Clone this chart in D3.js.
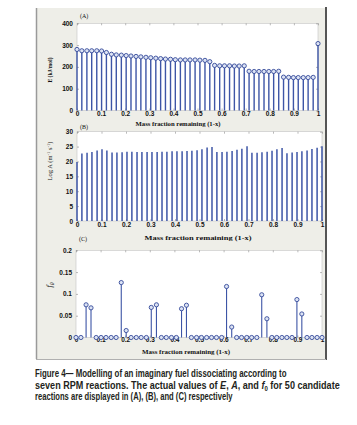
<!DOCTYPE html>
<html>
<head>
<meta charset="utf-8">
<script src="https://cdn.jsdelivr.net/npm/d3@7"></script>
<style>
  body { margin: 0; background: #fff; }
  svg text { font-family: "Liberation Serif", "DejaVu Serif", serif; font-weight: bold; fill: #111; }
  .tick line { stroke: #8a8a8a; stroke-width: 0.6; }
  .caption { font-family: "Liberation Sans", Arial, sans-serif; font-size: 10.5px; fill: #231f20; }
</style>
</head>
<body>
<div class="chart-container"></div>
<script>
//! DATA
// candidate positions, mass fraction remaining (1-x)
const massFraction = [0, 0.020, 0.041, 0.061, 0.082, 0.102, 0.122, 0.143, 0.163, 0.184,
  0.204, 0.224, 0.245, 0.265, 0.286, 0.306, 0.327, 0.347, 0.367, 0.388,
  0.408, 0.429, 0.449, 0.469, 0.490, 0.510, 0.531, 0.551, 0.571, 0.592,
  0.612, 0.633, 0.653, 0.673, 0.694, 0.714, 0.735, 0.755, 0.776, 0.796,
  0.816, 0.837, 0.857, 0.878, 0.898, 0.918, 0.939, 0.959, 0.980, 1];

// (A) activation energy, kJ/mol
const energyE = [280, 274, 274, 274, 274, 273, 266,
  258, 255, 254, 252, 250, 248, 246,
  244, 242, 240, 238, 236, 235, 233,
  232, 232, 232, 232, 231, 230, 224,
  207, 205, 205, 205, 204, 204, 205,
  180, 179, 179, 179, 179, 179, 180,
  153, 152, 151, 151, 151, 151, 152,
  307];

// (B) log of pre-exponential factor
const logA = [19.8, 22.7, 22.9, 23.2, 23.7, 24.1, 23.7,
  23.0, 23.0, 23.1, 23.3, 23.3, 23.2, 23.2,
  23.2, 23.2, 23.2, 23.3, 23.3, 23.4, 23.4,
  23.4, 23.5, 23.6, 23.8, 24.1, 24.7, 24.9,
  23.2, 23.2, 23.3, 23.5, 23.9, 24.3, 25.1,
  22.9, 22.9, 23.1, 23.3, 23.6, 24.1, 24.5,
  22.8, 23.0, 23.2, 23.4, 23.7, 24.2, 24.6,
  25.1];

// (C) initial fraction f0
const f0 = [0, 0, 0.075, 0.068, 0, 0, 0,
  0, 0, 0.126, 0.016, 0, 0, 0,
  0, 0.069, 0.075, 0, 0, 0, 0,
  0.066, 0.074, 0, 0, 0, 0, 0,
  0, 0, 0.117, 0.024, 0, 0, 0,
  0, 0, 0.098, 0.043, 0, 0, 0,
  0, 0, 0.087, 0.054, 0, 0, 0,
  0];

const xTicks = [0, 0.1, 0.2, 0.3, 0.4, 0.5, 0.6, 0.7, 0.8, 0.9, 1];
const eTicks = [0, 100, 200, 300, 400];
const logATicks = [0, 5, 10, 15, 20, 25, 30];
const f0Ticks = [0, 0.05, 0.1, 0.15, 0.2];

//! CONSTS
const width = 357;
const height = 425;
const stemColor = '#3d55a6';

//! SVG
const svg = d3.select('.chart-container')
  .append('svg')
  .attr('width', width)
  .attr('height', height);

// grey figure window
svg.append('rect')
  .attr('x', 36).attr('y', 8)
  .attr('width', 290).attr('height', 351)
  .attr('fill', '#eeeee8');
svg.append('line').attr('x1', 36.5).attr('x2', 36.5).attr('y1', 8).attr('y2', 359)
  .attr('stroke', '#9a9a9a').attr('stroke-width', 1.5);
svg.append('line').attr('x1', 326).attr('x2', 326).attr('y1', 7).attr('y2', 360)
  .attr('stroke', '#555').attr('stroke-width', 2);
svg.append('line').attr('x1', 36).attr('x2', 326).attr('y1', 359.5).attr('y2', 359.5)
  .attr('stroke', '#b0b0b0').attr('stroke-width', 1);

//! PANELS
const drawPanel = (p) => {
  const xScale = d3.scaleLinear().domain([0, 1]).range([p.left, p.right]);
  const yScale = d3.scaleLinear().domain([0, p.yMax]).range([p.bottom, p.top]);
  const g = svg.append('g');

  g.append('rect')
    .attr('x', p.left).attr('y', p.top)
    .attr('width', p.right - p.left).attr('height', p.bottom - p.top)
    .attr('fill', '#fff')
    .attr('stroke', '#c4c4c4').attr('stroke-width', 0.6);

  const fmt = d3.format('~g');

  g.append('g')
    .attr('transform', `translate(0,${p.bottom})`)
    .call(d3.axisBottom(xScale).tickValues(xTicks).tickSize(-2).tickPadding(p.xPad).tickFormat(fmt));
  g.append('g')
    .attr('transform', `translate(${p.left},0)`)
    .call(d3.axisLeft(yScale).tickValues(p.ticks).tickSize(-2).tickPadding(4).tickFormat(fmt));
  g.append('g')
    .attr('transform', `translate(0,${p.top})`)
    .call(d3.axisTop(xScale).tickValues(xTicks).tickSize(-2).tickFormat(''));
  g.append('g')
    .attr('transform', `translate(${p.right},0)`)
    .call(d3.axisRight(yScale).tickValues(p.ticks).tickSize(-2).tickFormat(''));

  g.selectAll('.domain').remove();
  g.selectAll('.tick text')
    .style('font-size', '6.5px')
    .style('font-family', '"Liberation Sans", Arial, sans-serif')
    .attr('fill', '#111');

  // stems
  g.append('g')
    .selectAll('line')
    .data(p.values)
    .enter()
    .append('line')
    .attr('x1', (d, i) => xScale(massFraction[i]))
    .attr('x2', (d, i) => xScale(massFraction[i]))
    .attr('y1', yScale(0))
    .attr('y2', d => yScale(d))
    .attr('stroke', stemColor)
    .attr('stroke-width', p.stemWidth);

  // markers
  if (p.markers) {
    g.append('g')
      .selectAll('circle')
      .data(p.values)
      .enter()
      .append('circle')
      .attr('cx', (d, i) => xScale(massFraction[i]))
      .attr('cy', d => yScale(d))
      .attr('r', 2.1)
      .attr('fill', '#dce3f4')
      .attr('stroke', '#34499a')
      .attr('stroke-width', 0.9);
  }

  // panel tag
  g.append('text')
    .attr('x', p.left + 3).attr('y', p.tagY)
    .style('font-size', '6px').style('font-weight', 'normal')
    .text(p.tag);

  // x title
  g.append('text')
    .attr('x', p.titleX).attr('y', p.titleY)
    .attr('text-anchor', 'middle')
    .attr('textLength', p.titleLen)
    .attr('lengthAdjust', 'spacingAndGlyphs')
    .style('font-size', '6.5px')
    .text('Mass fraction remaining (1-x)');

  return { g, xScale, yScale };
};

drawPanel({
  left: 77, right: 318, top: 23.3, bottom: 110.5, yMax: 400,
  ticks: eTicks, values: energyE, markers: true, stemWidth: 1.4,
  tag: '(A)', tagY: 18, xPad: 1,
  titleX: 178, titleY: 126, titleLen: 85
});

drawPanel({
  left: 77, right: 322, top: 131.7, bottom: 221, yMax: 30,
  ticks: logATicks, values: logA, markers: false, stemWidth: 1.5,
  tag: '(B)', tagY: 129, xPad: 1,
  titleX: 198, titleY: 240, titleLen: 107
});

drawPanel({
  left: 76, right: 322, top: 250.3, bottom: 337.5, yMax: 0.2,
  ticks: f0Ticks, values: f0, markers: true, stemWidth: 1.1,
  tag: '(C)', tagY: 241, xPad: 0,
  titleX: 186, titleY: 354, titleLen: 88
});

//! Y LABELS
svg.append('text')
  .attr('transform', 'translate(52,70) rotate(-90)')
  .attr('text-anchor', 'middle')
  .attr('textLength', 25).attr('lengthAdjust', 'spacingAndGlyphs')
  .style('font-size', '6.5px')
  .text('E (kJ/mol)');

const logLabel = svg.append('text')
  .attr('transform', 'translate(52,161) rotate(-90)')
  .attr('text-anchor', 'middle')
  .style('font-size', '6.5px')
  .style('font-weight', 'normal');
logLabel.append('tspan').text('Log A (m');
logLabel.append('tspan').attr('dy', -2.5).style('font-size', '4.5px').text('-1');
logLabel.append('tspan').attr('dy', 2.5).text(' s');
logLabel.append('tspan').attr('dy', -2.5).style('font-size', '4.5px').text('-1');
logLabel.append('tspan').attr('dy', 2.5).text(')');

const fLabel = svg.append('text')
  .attr('transform', 'translate(52,285) rotate(-90)')
  .attr('text-anchor', 'middle')
  .style('font-size', '8px')
  .style('font-style', 'italic')
  .style('font-weight', 'normal');
fLabel.append('tspan').text('f');
fLabel.append('tspan').attr('dy', 2).style('font-size', '5.5px').text('0');

//! CAPTION
// each line is squeezed horizontally to the width it has in the print
const captionLines = [
  { y: 377, len: 252, parts: [['Figure 4\u2014 Modelling of an imaginary fuel dissociating according to']] },
  { y: 388.5, len: 305, parts: [
    ['seven RPM reactions. The actual values of '], ['E', 'i'], [', '], ['A', 'i'],
    [', and '], ['f', 'i'], ['0', 'sub'], [' for 50 candidate']] },
  { y: 400, len: 198, parts: [['reactions are displayed in (A), (B), and (C) respectively']] }
];

captionLines.forEach(line => {
  const t = svg.append('text').attr('class', 'caption');
  line.parts.forEach(([s, kind], i) => {
    const prev = i > 0 ? line.parts[i - 1][1] : null;
    const ts = t.append('tspan').text(s);
    if (kind === 'i') ts.style('font-style', 'italic');
    if (kind === 'sub') ts.attr('dy', 2).style('font-size', '7px');
    if (prev === 'sub') ts.attr('dy', -2);
  });
  const natural = t.node().getComputedTextLength();
  t.attr('transform', `translate(35,${line.y}) scale(${line.len / natural},1)`);
});
</script>
</body>
</html>
